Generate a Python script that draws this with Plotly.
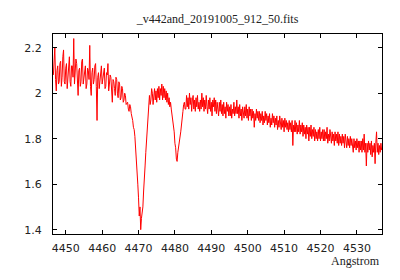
import numpy as np
import plotly.graph_objects as go

wave_start = 4446.6
wave_step = 0.2

flux = [
    # 4446.6 - 4459.8
    2.08, 2.15, 2.20, 2.06, 2.01, 2.10, 2.12, 2.04, 2.05, 2.13,
    2.14, 2.03, 2.07, 2.16, 2.19, 2.05, 2.04, 2.11, 2.13, 2.02,
    2.06, 2.14, 2.16, 2.05, 2.03, 2.12, 2.12, 2.07, 2.24, 2.04,
    2.08, 2.15, 2.13, 2.01, 1.99, 2.10, 2.11, 2.03, 2.05, 2.14,
    2.15, 2.04, 2.08, 2.12, 2.12, 2.02, 2.04, 2.11, 2.10, 2.06,
    2.21, 2.03, 1.99, 2.09, 2.11, 2.04, 2.06, 2.12, 2.13, 2.03,
    1.88, 2.07, 2.09, 2.02, 2.05, 2.11, 2.12,
    # 4460.0 - 4466.8
    2.04, 2.07, 2.10, 2.11, 2.02, 2.03, 2.09, 2.08, 2.13, 2.01,
    2.04, 2.08, 2.07, 2.00, 1.96, 2.06, 2.05, 2.02, 1.99, 2.07,
    2.06, 2.00, 1.98, 2.05, 2.04, 1.97, 1.98, 2.03, 2.02, 1.96,
    1.97, 2.00, 1.99, 1.95, 1.96,
    # 4467.0 - 4474.2 (He I 4471)
    1.96, 1.93, 1.92, 1.95, 1.94, 1.91, 1.90, 1.88, 1.85, 1.84,
    1.81, 1.76, 1.71, 1.70, 1.60, 1.54, 1.46, 1.50, 1.40, 1.45,
    1.48, 1.50, 1.57, 1.61, 1.68, 1.74, 1.79, 1.84, 1.90, 1.96,
    1.99, 1.95, 1.97, 2.02, 2.00, 1.95, 1.98,
    # 4474.4 - 4478.8
    2.02, 1.97, 2.01, 1.96, 2.02, 1.98, 2.03, 1.97, 2.02, 1.99,
    2.04, 1.97, 2.03, 1.98, 2.02, 1.97, 2.01, 1.96, 2.00, 1.95,
    1.98, 1.94, 1.96,
    # 4479.0 - 4482.8 (Mg II 4481)
    1.93, 1.91, 1.89, 1.85, 1.83, 1.78, 1.76, 1.71, 1.70, 1.74,
    1.76, 1.77, 1.80, 1.83, 1.86, 1.88, 1.92, 1.95, 1.96, 1.93,
    # 4483.0 - 4503.0
    1.93, 1.99, 1.94, 1.98, 1.93, 2.00, 1.95, 1.98, 1.92, 1.97,
    1.99, 1.93, 1.97, 1.92, 1.98, 1.94, 1.99, 1.93, 1.96, 1.92,
    1.97, 1.93, 2.00, 1.94, 1.98, 1.92, 1.97, 1.93, 1.99, 1.94,
    1.91, 1.97, 1.93, 1.98, 1.92, 1.96, 1.90, 1.97, 1.94, 1.98,
    1.92, 1.97, 1.91, 1.96, 1.93, 1.90, 1.96, 1.92, 1.97, 1.91,
    1.95, 1.90, 1.96, 1.91, 1.94, 1.89, 1.96, 1.92, 1.95, 1.90,
    1.94, 1.90, 1.95, 1.89, 1.93, 1.91, 1.96, 1.90, 1.94, 1.91,
    1.97, 1.91, 1.94, 1.89, 1.95, 1.90, 1.93, 1.88, 1.94, 1.91,
    1.89, 1.94, 1.90, 1.95, 1.89, 1.93, 1.88, 1.94, 1.90, 1.93,
    1.88, 1.93, 1.89, 1.92, 1.85, 1.91, 1.88, 1.93, 1.89, 1.92,
    1.88,
    # 4503.2 - 4520.8
    1.92, 1.87, 1.91, 1.88, 1.92, 1.86, 1.90, 1.87, 1.92, 1.88,
    1.91, 1.86, 1.90, 1.87, 1.91, 1.85, 1.89, 1.86, 1.91, 1.87,
    1.90, 1.85, 1.89, 1.86, 1.90, 1.84, 1.88, 1.85, 1.90, 1.86,
    1.84, 1.89, 1.85, 1.88, 1.83, 1.89, 1.85, 1.88, 1.84, 1.87,
    1.83, 1.88, 1.84, 1.87, 1.83, 1.88, 1.77, 1.86, 1.83, 1.88,
    1.83, 1.87, 1.82, 1.86, 1.83, 1.88, 1.82, 1.86, 1.83, 1.87,
    1.81, 1.86, 1.82, 1.85, 1.80, 1.86, 1.82, 1.85, 1.79, 1.85,
    1.81, 1.86, 1.80, 1.84, 1.81, 1.85, 1.79, 1.84, 1.80, 1.83,
    1.79, 1.84, 1.80, 1.85, 1.79, 1.83, 1.80, 1.84, 1.79,
    # 4521.0 - 4537.0
    1.84, 1.79, 1.83, 1.80, 1.85, 1.78, 1.82, 1.79, 1.84, 1.80,
    1.78, 1.83, 1.79, 1.82, 1.77, 1.83, 1.79, 1.82, 1.78, 1.83,
    1.77, 1.82, 1.78, 1.81, 1.77, 1.82, 1.78, 1.81, 1.76, 1.82,
    1.80, 1.76, 1.81, 1.77, 1.80, 1.76, 1.81, 1.77, 1.80, 1.76,
    1.74, 1.80, 1.76, 1.79, 1.75, 1.80, 1.76, 1.79, 1.74, 1.79,
    1.75, 1.79, 1.74, 1.80, 1.75, 1.82, 1.74, 1.78, 1.68, 1.78,
    1.74, 1.79, 1.75, 1.78, 1.73, 1.79, 1.72, 1.77, 1.74, 1.78,
    1.69, 1.78, 1.83, 1.74, 1.78, 1.73, 1.77, 1.74, 1.78, 1.75,
    1.76,
]

wavelength = wave_start + wave_step * np.arange(len(flux))

x_ticks = [4450, 4460, 4470, 4480, 4490, 4500, 4510, 4520, 4530]
y_ticks = [1.4, 1.6, 1.8, 2.0, 2.2]
y_tick_labels = ["1.4", "1.6", "1.8", "2", "2.2"]

title_text = "_v442and_20191005_912_50.fits"
x_label = "Angstrom"

fig = go.Figure()
fig.add_trace(go.Scatter(
    x=wavelength, y=flux, mode="lines",
    line=dict(color="#ff0000", width=1),
    showlegend=False, hoverinfo="skip",
))

tick_font = dict(family="DejaVu Sans", size=11, color="#222222")

fig.update_layout(
    width=400, height=280,
    margin=dict(l=53, r=18, t=34, b=46),
    paper_bgcolor="white", plot_bgcolor="white",
    title=dict(text=title_text, x=0.5, xref="paper", y=1 - 19 / 280,
               yref="container", yanchor="middle", xanchor="center",
               font=dict(family="Liberation Serif", size=12, color="#222222")),
    annotations=[dict(text=x_label, xref="paper", yref="paper", x=1.0,
                      y=-0.137, xanchor="right", yanchor="middle",
                      showarrow=False,
                      font=dict(family="Liberation Serif", size=12, color="#222222"))],
)

fig.update_xaxes(
    range=[4446.5, 4536.9], tickvals=x_ticks, ticks="inside", ticklen=4,
    tickcolor="black", showline=True, linecolor="black", linewidth=1,
    mirror="ticks", showgrid=False, zeroline=False, tickfont=tick_font,
    ticklabelstandoff=4,
)
fig.update_yaxes(
    range=[1.381, 2.26], tickvals=y_ticks, ticktext=y_tick_labels,
    ticks="inside", ticklen=4, tickcolor="black", showline=True,
    linecolor="black", linewidth=1, mirror="ticks", showgrid=False,
    zeroline=False, tickfont=tick_font, ticklabelstandoff=8,
)

fig.write_html("out.html", post_script="document.body.style.margin='0';",
               config={"displayModeBar": False})
